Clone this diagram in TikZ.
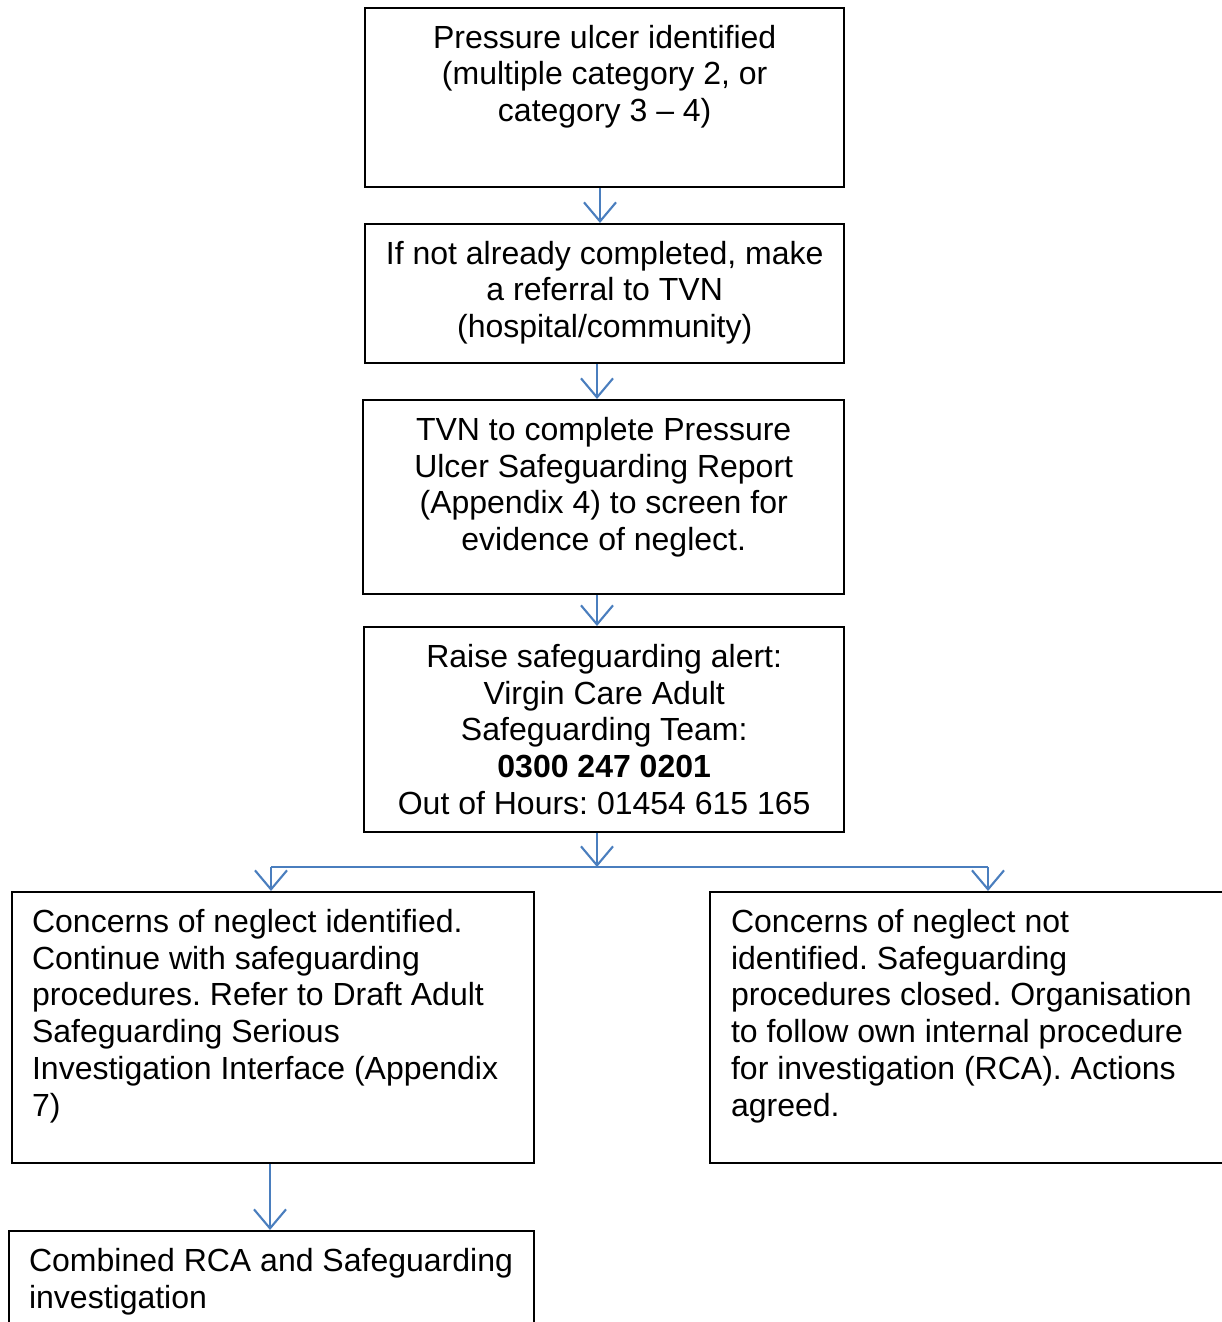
\documentclass[tikz,border=0pt]{standalone}
\usepackage{fontspec}
\setmainfont{Liberation Sans}
\usetikzlibrary{arrows.meta}

\definecolor{linkblue}{RGB}{74,126,190}
\tikzset{
  stepbox/.style={draw=black, line width=0.6pt, inner sep=0pt, anchor=north west,
    font=\fontsize{9.1pt}{10.5pt}\selectfont\frenchspacing},
  flow/.style={draw=linkblue, line width=0.6pt, -{Straight Barb[length=0.19cm,width=0.32cm]}},
  link/.style={draw=linkblue, line width=0.6pt}
}
\newcommand{\bodycentre}[3]{\parbox[t][#2][t]{#1}{\centering\rule{0pt}{0.40cm}#3}}
\newcommand{\bodyleft}[3]{\parbox[t][#2][t]{#1}{\raggedright\rule{0pt}{0.40cm}#3}}

\begin{document}
\begin{tikzpicture}[x=0.01cm, y=-0.01cm]
  \useasboundingbox (0,0) rectangle (1222,1322);
  \clip (0,0) rectangle (1222,1322);

  % Steps
  \node[stepbox] (ulcer) at (364,7) {\bodycentre{4.79cm}{1.79cm}{Pressure ulcer identified\\(multiple category 2, or\\category 3 – 4)}};
  \node[stepbox] (referral) at (364,223) {\bodycentre{4.79cm}{1.39cm}{If not already completed, make\\a referral to TVN\\(hospital/community)}};
  \node[stepbox] (report) at (362,399) {\bodycentre{4.81cm}{1.94cm}{TVN to complete Pressure\\Ulcer Safeguarding Report\\(Appendix 4) to screen for\\evidence of neglect.}};
  \node[stepbox] (alert) at (363,626) {\bodycentre{4.80cm}{2.05cm}{Raise safeguarding alert:\\Virgin Care Adult\\Safeguarding Team:\\\textbf{0300 247 0201}\\Out of Hours: 01454 615 165}};

  % Outcomes
  \node[stepbox, inner xsep=0.2cm] (found) at (11,891) {\bodyleft{4.82cm}{2.71cm}{Concerns of neglect identified.\\Continue with safeguarding\\procedures. Refer to Draft Adult\\Safeguarding Serious\\Investigation Interface (Appendix\\7)}};
  \node[stepbox, inner xsep=0.21cm] (notfound) at (709,891) {\bodyleft{5.2cm}{2.71cm}{Concerns of neglect not\\identified. Safeguarding\\procedures closed. Organisation\\to follow own internal procedure\\for investigation (RCA). Actions\\agreed.}};
  \node[stepbox, inner xsep=0.2cm] (combined) at (8,1230) {\bodyleft{4.85cm}{1.4cm}{Combined RCA and Safeguarding\\investigation}};

  % Connectors
  \coordinate (firstcol) at (600,0);
  \coordinate (maincol) at (597,0);
  \coordinate (splitL) at (271,867);
  \coordinate (splitR) at (988,867);
  \coordinate (leftcol) at (270,0);
  \draw[flow] (ulcer.south -| firstcol) -- (referral.north -| firstcol);
  \draw[flow] (referral.south -| maincol) -- (report.north -| maincol);
  \draw[flow] (report.south -| maincol) -- (alert.north -| maincol);
  \draw[flow] (alert.south -| maincol) -- (splitL -| maincol);
  \draw[link] (splitL) -- (splitR);
  \draw[flow] (splitL) -- (found.north -| splitL);
  \draw[flow] (splitR) -- (notfound.north -| splitR);
  \draw[flow] (found.south -| leftcol) -- (combined.north -| leftcol);
\end{tikzpicture}
\end{document}
